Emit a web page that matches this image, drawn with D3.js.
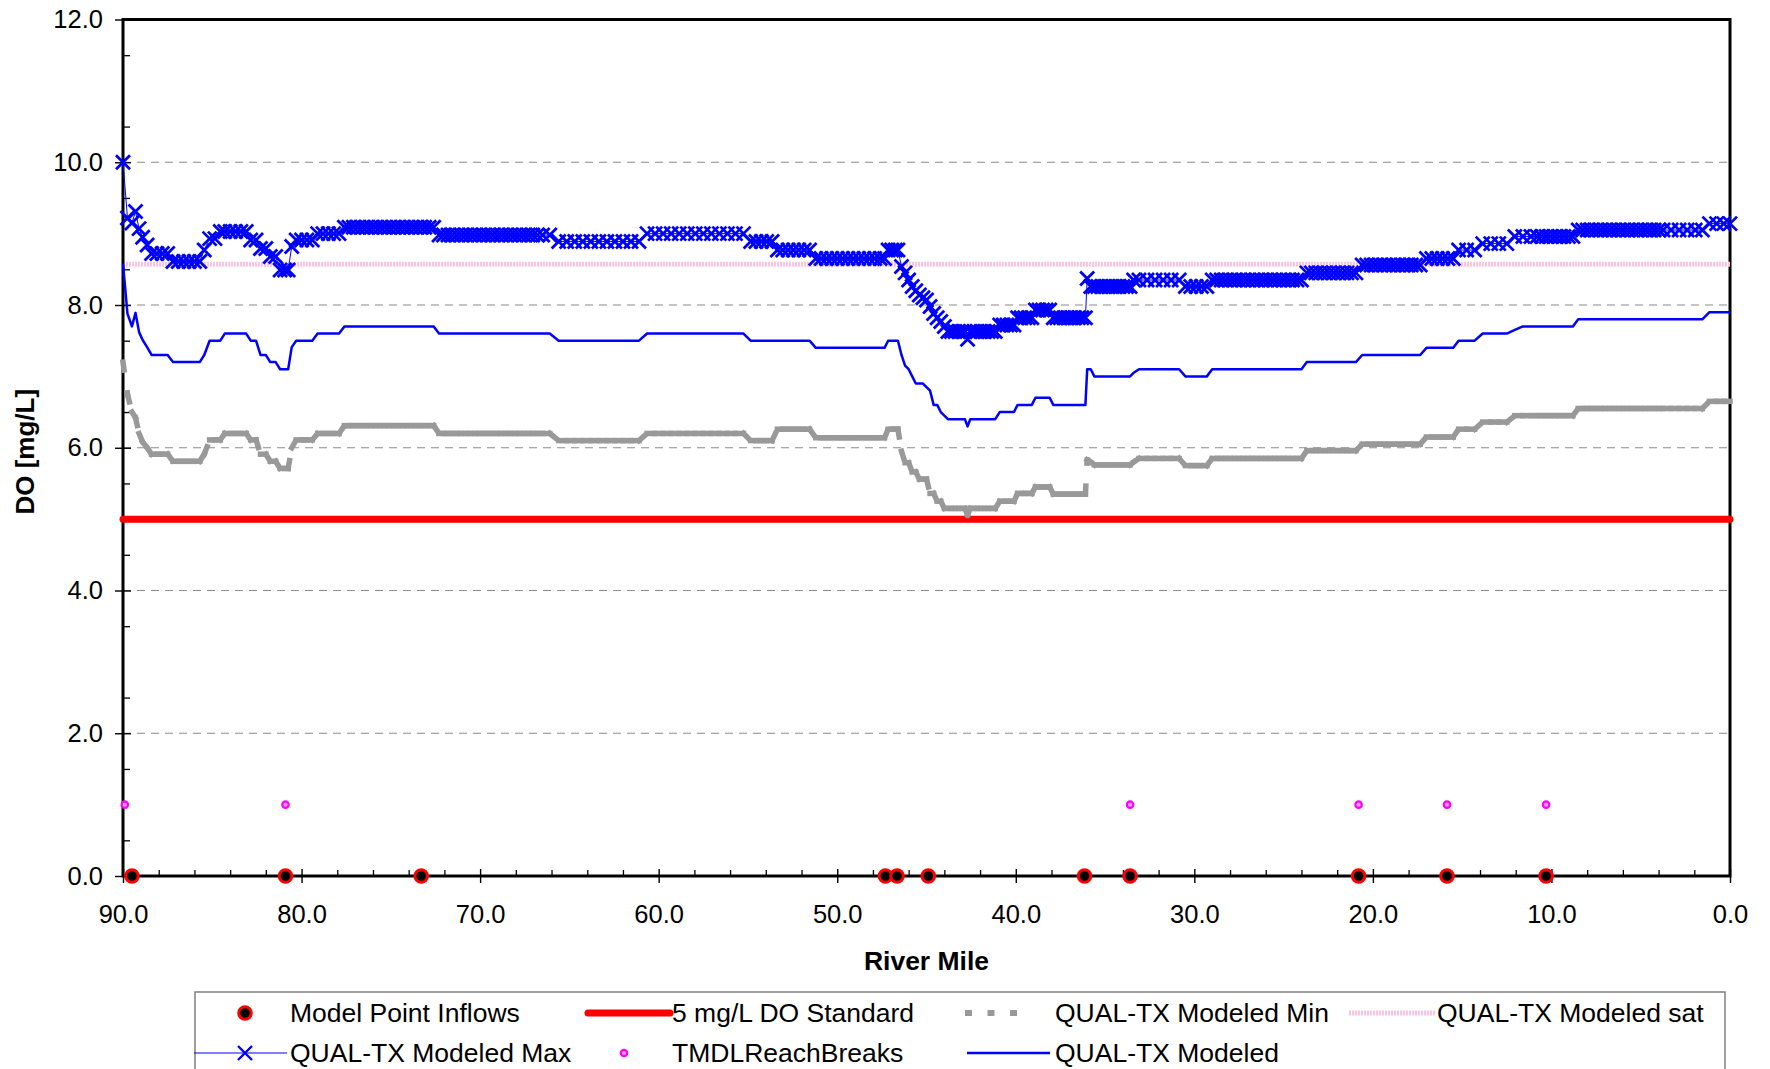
<!DOCTYPE html>
<html>
<head>
<meta charset="utf-8">
<script src="https://cdn.jsdelivr.net/npm/d3@7"></script>
<style>
  body { margin: 0; background: #fff; }
  svg text { font-family: "Liberation Sans", Arial, sans-serif; fill: #000; }
</style>
</head>
<body>
<svg id="chart" width="1770" height="1069"></svg>
<script>
// QUAL-TX model output (river mile, DO mg/L)
const riverMile = [
  90.0, 89.75, 89.5, 89.3, 89.1, 88.9, 88.65, 88.4, 88.1, 87.8, 87.5, 87.2, 86.9, 86.6, 86.3, 86.0, 85.7,
  85.45, 85.15, 84.85, 84.55, 84.3, 84.0, 83.7, 83.4, 83.1, 82.85, 82.55, 82.3, 82.0, 81.75, 81.45, 81.2, 80.95, 80.75,
  80.55, 80.3, 80.0, 79.7, 79.4, 79.1, 78.8, 78.5, 78.2, 77.9,
  77.6, 77.35, 77.1, 76.85, 76.6, 76.35, 76.1, 75.85, 75.6, 75.35, 75.1, 74.85, 74.6, 74.35, 74.1, 73.85, 73.6, 73.35, 73.1, 72.85, 72.6,
  72.3, 72.05, 71.8, 71.55, 71.3, 71.05, 70.8, 70.55, 70.3, 70.05, 69.8, 69.55, 69.3, 69.05, 68.8, 68.55, 68.3, 68.05, 67.8, 67.55, 67.3, 67.05, 66.8, 66.5, 66.1,
  65.6, 65.15, 64.7, 64.25, 63.8, 63.35, 62.9, 62.45, 62.0, 61.55, 61.1,
  60.65, 60.2, 59.75, 59.3, 58.85, 58.4, 57.95, 57.5, 57.05, 56.6, 56.15, 55.7, 55.25,
  54.85, 54.55, 54.25, 53.95, 53.65,
  53.35, 53.05, 52.75, 52.45, 52.15, 51.85, 51.55,
  51.2, 50.9, 50.6, 50.3, 50.0, 49.7, 49.4, 49.1, 48.8, 48.5, 48.2, 47.9, 47.6, 47.35,
  47.15, 46.95, 46.75, 46.6,
  46.4, 46.2, 46.0, 45.8, 45.6, 45.4, 45.2, 45.0, 44.8, 44.6, 44.4, 44.2, 44.0,
  43.8, 43.6, 43.4, 43.2, 43.0, 42.85,
  42.7,
  42.55, 42.35, 42.15, 41.95, 41.75, 41.55, 41.35, 41.15,
  40.9, 40.7, 40.5, 40.3, 40.1,
  39.9, 39.7, 39.5, 39.3, 39.1,
  38.9, 38.7, 38.5, 38.3, 38.1,
  37.9, 37.7, 37.5, 37.3, 37.1, 36.9, 36.7, 36.5, 36.3, 36.1,
  36.0, 35.8,
  35.6, 35.4, 35.2, 35.0, 34.8, 34.6, 34.4, 34.2, 34.0, 33.8, 33.6,
  33.4,
  33.1, 32.65, 32.2, 31.75, 31.3, 30.85,
  30.5, 30.2, 29.9, 29.6, 29.3,
  29.0, 28.75, 28.5, 28.25, 28.0, 27.75, 27.5, 27.25, 27.0, 26.75, 26.5, 26.25, 26.0, 25.75, 25.5, 25.25, 25.0, 24.75, 24.5, 24.25, 24.0,
  23.7, 23.45, 23.2, 22.95, 22.7, 22.45, 22.2, 21.95, 21.7, 21.45, 21.2, 20.95,
  20.6, 20.35, 20.1, 19.85, 19.6, 19.35, 19.1, 18.85, 18.6, 18.35, 18.1, 17.85, 17.6, 17.35,
  17.0, 16.7, 16.4, 16.1, 15.8, 15.5,
  15.2, 14.75, 14.3,
  13.85, 13.4, 12.95, 12.5,
  12.05, 11.6, 11.15,
  10.8, 10.55, 10.3, 10.05, 9.8, 9.55, 9.3, 9.05, 8.8,
  8.5, 8.25, 8.0, 7.75, 7.5, 7.25, 7.0, 6.75, 6.5, 6.25, 6.0, 5.75, 5.5, 5.25, 5.0, 4.75, 4.5, 4.25, 4.0, 3.75,
  3.3, 2.85, 2.4, 1.95, 1.55,
  1.15, 0.75, 0.35, 0.0
];

const doModeled = [
  8.58, 7.88, 7.70, 7.89, 7.62, 7.51, 7.41, 7.30, 7.30, 7.30, 7.30, 7.20, 7.20, 7.20, 7.20, 7.20, 7.20,
  7.30, 7.50, 7.50, 7.50, 7.60, 7.60, 7.60, 7.60, 7.60, 7.50, 7.50, 7.30, 7.30, 7.20, 7.20, 7.10, 7.10, 7.10,
  7.41, 7.50, 7.50, 7.50, 7.50, 7.60, 7.60, 7.60, 7.60, 7.60,
  7.70, 7.70, 7.70, 7.70, 7.70, 7.70, 7.70, 7.70, 7.70, 7.70, 7.70, 7.70, 7.70, 7.70, 7.70, 7.70, 7.70, 7.70, 7.70, 7.70, 7.70,
  7.60, 7.60, 7.60, 7.60, 7.60, 7.60, 7.60, 7.60, 7.60, 7.60, 7.60, 7.60, 7.60, 7.60, 7.60, 7.60, 7.60, 7.60, 7.60, 7.60, 7.60, 7.60, 7.60, 7.60, 7.60,
  7.50, 7.50, 7.50, 7.50, 7.50, 7.50, 7.50, 7.50, 7.50, 7.50, 7.50,
  7.60, 7.60, 7.60, 7.60, 7.60, 7.60, 7.60, 7.60, 7.60, 7.60, 7.60, 7.60, 7.60,
  7.50, 7.50, 7.50, 7.50, 7.50,
  7.50, 7.50, 7.50, 7.50, 7.50, 7.50, 7.50,
  7.40, 7.40, 7.40, 7.40, 7.40, 7.40, 7.40, 7.40, 7.40, 7.40, 7.40, 7.40, 7.40, 7.40,
  7.50, 7.50, 7.50, 7.50,
  7.30, 7.15, 7.10, 7.00, 6.90, 6.90, 6.90, 6.85, 6.80, 6.60, 6.60, 6.50, 6.45,
  6.40, 6.40, 6.40, 6.40, 6.40, 6.40,
  6.30,
  6.40, 6.40, 6.40, 6.40, 6.40, 6.40, 6.40, 6.40,
  6.50, 6.50, 6.50, 6.50, 6.50,
  6.60, 6.60, 6.60, 6.60, 6.60,
  6.70, 6.70, 6.70, 6.70, 6.70,
  6.60, 6.60, 6.60, 6.60, 6.60, 6.60, 6.60, 6.60, 6.60, 6.60,
  7.10, 7.10,
  7.00, 7.00, 7.00, 7.00, 7.00, 7.00, 7.00, 7.00, 7.00, 7.00, 7.00,
  7.05,
  7.10, 7.10, 7.10, 7.10, 7.10, 7.10,
  7.00, 7.00, 7.00, 7.00, 7.00,
  7.10, 7.10, 7.10, 7.10, 7.10, 7.10, 7.10, 7.10, 7.10, 7.10, 7.10, 7.10, 7.10, 7.10, 7.10, 7.10, 7.10, 7.10, 7.10, 7.10, 7.10,
  7.20, 7.20, 7.20, 7.20, 7.20, 7.20, 7.20, 7.20, 7.20, 7.20, 7.20, 7.20,
  7.30, 7.30, 7.30, 7.30, 7.30, 7.30, 7.30, 7.30, 7.30, 7.30, 7.30, 7.30, 7.30, 7.30,
  7.40, 7.40, 7.40, 7.40, 7.40, 7.40,
  7.50, 7.50, 7.50,
  7.60, 7.60, 7.60, 7.60,
  7.65, 7.70, 7.70,
  7.70, 7.70, 7.70, 7.70, 7.70, 7.70, 7.70, 7.70, 7.70,
  7.80, 7.80, 7.80, 7.80, 7.80, 7.80, 7.80, 7.80, 7.80, 7.80, 7.80, 7.80, 7.80, 7.80, 7.80, 7.80, 7.80, 7.80, 7.80, 7.80,
  7.80, 7.80, 7.80, 7.80, 7.80,
  7.90, 7.90, 7.90, 7.90
];

const doModeledMax = [
  10.00, 9.22, 9.15, 9.31, 9.07, 8.95, 8.84, 8.72, 8.72, 8.72, 8.72, 8.61, 8.61, 8.61, 8.61, 8.61, 8.61,
  8.77, 8.93, 8.93, 9.03, 9.03, 9.03, 9.03, 9.03, 9.03, 8.91, 8.91, 8.79, 8.79, 8.68, 8.68, 8.49, 8.49, 8.49,
  8.82, 8.91, 8.91, 8.91, 8.91, 9.00, 9.00, 9.00, 9.00, 9.00,
  9.09, 9.09, 9.09, 9.09, 9.09, 9.09, 9.09, 9.09, 9.09, 9.09, 9.09, 9.09, 9.09, 9.09, 9.09, 9.09, 9.09, 9.09, 9.09, 9.09, 9.09,
  8.98, 8.98, 8.98, 8.98, 8.98, 8.98, 8.98, 8.98, 8.98, 8.98, 8.98, 8.98, 8.98, 8.98, 8.98, 8.98, 8.98, 8.98, 8.98, 8.98, 8.98, 8.98, 8.98, 8.98, 8.98,
  8.89, 8.89, 8.89, 8.89, 8.89, 8.89, 8.89, 8.89, 8.89, 8.89, 8.89,
  9.00, 9.00, 9.00, 9.00, 9.00, 9.00, 9.00, 9.00, 9.00, 9.00, 9.00, 9.00, 9.00,
  8.89, 8.89, 8.89, 8.89, 8.89,
  8.77, 8.77, 8.77, 8.77, 8.77, 8.77, 8.77,
  8.65, 8.65, 8.65, 8.65, 8.65, 8.65, 8.65, 8.65, 8.65, 8.65, 8.65, 8.65, 8.65, 8.65,
  8.77, 8.77, 8.77, 8.77,
  8.54, 8.45, 8.35, 8.26, 8.20, 8.14, 8.10, 8.07, 7.98, 7.88, 7.82, 7.77, 7.70,
  7.63, 7.63, 7.63, 7.63, 7.63, 7.63,
  7.52,
  7.63, 7.63, 7.63, 7.63, 7.63, 7.63, 7.63, 7.63,
  7.72, 7.72, 7.72, 7.72, 7.72,
  7.82, 7.82, 7.82, 7.82, 7.82,
  7.93, 7.93, 7.93, 7.93, 7.93,
  7.82, 7.82, 7.82, 7.82, 7.82, 7.82, 7.82, 7.82, 7.82, 7.82,
  8.37, 8.26,
  8.26, 8.26, 8.26, 8.26, 8.26, 8.26, 8.26, 8.26, 8.26, 8.26, 8.26,
  8.35,
  8.35, 8.35, 8.35, 8.35, 8.35, 8.35,
  8.26, 8.26, 8.26, 8.26, 8.26,
  8.35, 8.35, 8.35, 8.35, 8.35, 8.35, 8.35, 8.35, 8.35, 8.35, 8.35, 8.35, 8.35, 8.35, 8.35, 8.35, 8.35, 8.35, 8.35, 8.35, 8.35,
  8.45, 8.45, 8.45, 8.45, 8.45, 8.45, 8.45, 8.45, 8.45, 8.45, 8.45, 8.45,
  8.56, 8.56, 8.56, 8.56, 8.56, 8.56, 8.56, 8.56, 8.56, 8.56, 8.56, 8.56, 8.56, 8.56,
  8.65, 8.65, 8.65, 8.65, 8.65, 8.65,
  8.77, 8.77, 8.77,
  8.86, 8.86, 8.86, 8.86,
  8.96, 8.96, 8.96,
  8.96, 8.96, 8.96, 8.96, 8.96, 8.96, 8.96, 8.96, 8.96,
  9.05, 9.05, 9.05, 9.05, 9.05, 9.05, 9.05, 9.05, 9.05, 9.05, 9.05, 9.05, 9.05, 9.05, 9.05, 9.05, 9.05, 9.05, 9.05, 9.05,
  9.05, 9.05, 9.05, 9.05, 9.05,
  9.14, 9.14, 9.14, 9.14
];

const doModeledMin = [
  7.20, 6.75, 6.50, 6.42, 6.20, 6.08, 6.00, 5.91, 5.91, 5.91, 5.91, 5.81, 5.81, 5.81, 5.81, 5.81, 5.81,
  5.91, 6.11, 6.11, 6.11, 6.20, 6.20, 6.20, 6.20, 6.20, 6.11, 6.11, 5.91, 5.91, 5.81, 5.81, 5.71, 5.71, 5.71,
  6.00, 6.11, 6.11, 6.11, 6.11, 6.20, 6.20, 6.20, 6.20, 6.20,
  6.31, 6.31, 6.31, 6.31, 6.31, 6.31, 6.31, 6.31, 6.31, 6.31, 6.31, 6.31, 6.31, 6.31, 6.31, 6.31, 6.31, 6.31, 6.31, 6.31, 6.31,
  6.20, 6.20, 6.20, 6.20, 6.20, 6.20, 6.20, 6.20, 6.20, 6.20, 6.20, 6.20, 6.20, 6.20, 6.20, 6.20, 6.20, 6.20, 6.20, 6.20, 6.20, 6.20, 6.20, 6.20, 6.20,
  6.10, 6.10, 6.10, 6.10, 6.10, 6.10, 6.10, 6.10, 6.10, 6.10, 6.10,
  6.20, 6.20, 6.20, 6.20, 6.20, 6.20, 6.20, 6.20, 6.20, 6.20, 6.20, 6.20, 6.20,
  6.10, 6.10, 6.10, 6.10, 6.10,
  6.26, 6.26, 6.26, 6.26, 6.26, 6.26, 6.26,
  6.14, 6.14, 6.14, 6.14, 6.14, 6.14, 6.14, 6.14, 6.14, 6.14, 6.14, 6.14, 6.14, 6.14,
  6.26, 6.26, 6.26, 6.26,
  5.95, 5.79, 5.79, 5.66, 5.66, 5.56, 5.56, 5.56, 5.36, 5.36, 5.25, 5.25, 5.15,
  5.15, 5.15, 5.15, 5.15, 5.15, 5.15,
  5.06,
  5.15, 5.15, 5.15, 5.15, 5.15, 5.15, 5.15, 5.15,
  5.25, 5.25, 5.25, 5.25, 5.25,
  5.36, 5.36, 5.36, 5.36, 5.36,
  5.45, 5.45, 5.45, 5.45, 5.45,
  5.35, 5.35, 5.35, 5.35, 5.35, 5.35, 5.35, 5.35, 5.35, 5.35,
  5.83, 5.80,
  5.76, 5.76, 5.76, 5.76, 5.76, 5.76, 5.76, 5.76, 5.76, 5.76, 5.76,
  5.80,
  5.85, 5.85, 5.85, 5.85, 5.85, 5.85,
  5.75, 5.75, 5.75, 5.75, 5.75,
  5.85, 5.85, 5.85, 5.85, 5.85, 5.85, 5.85, 5.85, 5.85, 5.85, 5.85, 5.85, 5.85, 5.85, 5.85, 5.85, 5.85, 5.85, 5.85, 5.85, 5.85,
  5.96, 5.96, 5.96, 5.96, 5.96, 5.96, 5.96, 5.96, 5.96, 5.96, 5.96, 5.96,
  6.05, 6.05, 6.05, 6.05, 6.05, 6.05, 6.05, 6.05, 6.05, 6.05, 6.05, 6.05, 6.05, 6.05,
  6.15, 6.15, 6.15, 6.15, 6.15, 6.15,
  6.26, 6.26, 6.26,
  6.36, 6.36, 6.36, 6.36,
  6.45, 6.45, 6.45,
  6.45, 6.45, 6.45, 6.45, 6.45, 6.45, 6.45, 6.45, 6.45,
  6.55, 6.55, 6.55, 6.55, 6.55, 6.55, 6.55, 6.55, 6.55, 6.55, 6.55, 6.55, 6.55, 6.55, 6.55, 6.55, 6.55, 6.55, 6.55, 6.55,
  6.55, 6.55, 6.55, 6.55, 6.55,
  6.65, 6.65, 6.65, 6.65
];

const doSat = 8.57;
const doStandard = 5.0;
const inflowMiles = [89.5, 80.9, 73.3, 47.3, 46.65, 44.9, 36.15, 33.6, 20.8, 15.85, 10.3];
const inflowLevel = 0.0;
const reachBreakMiles = [89.9, 80.9, 33.6, 20.8, 15.85, 10.3];
const reachBreakLevel = 1.0;

const yTicks = [0, 2, 4, 6, 8, 10, 12];
const xTicks = [90, 80, 70, 60, 50, 40, 30, 20, 10, 0];

if (doModeled.length !== riverMile.length || doModeledMax.length !== riverMile.length ||
    doModeledMin.length !== riverMile.length) {
  throw new Error("length mismatch " + [riverMile.length, doModeled.length,
    doModeledMax.length, doModeledMin.length].join(","));
}

const svg = d3.select("#chart");
const plotLeft = 123, plotRight = 1730, plotTop = 19.5, plotBottom = 876;

const x = d3.scaleLinear().domain([90, 0]).range([plotLeft, plotRight]);
const y = d3.scaleLinear().domain([0, 12]).range([plotBottom, plotTop]);
const fmt = d3.format(".1f");
const blue = "#0000ff";

const rows = riverMile.map((m, i) => ({
  mile: m, mod: doModeled[i], max: doModeledMax[i], min: doModeledMin[i]
}));

// gridlines
svg.append("g")
  .selectAll("line")
  .data(yTicks.filter(d => d > 0 && d < 12))
  .enter()
  .append("line")
  .attr("x1", plotLeft).attr("x2", plotRight)
  .attr("y1", d => y(d)).attr("y2", d => y(d))
  .attr("stroke", "#8c8c8c")
  .attr("stroke-width", 1.2)
  .attr("stroke-dasharray", "8,6");

// minor ticks (inside)
svg.append("g")
  .attr("transform", `translate(${plotLeft},0)`)
  .call(d3.axisLeft(y).tickValues(d3.range(0.5, 12, 1)).tickSize(-7).tickFormat(""))
  .call(g => g.select(".domain").remove())
  .call(g => g.selectAll("line").attr("stroke-width", 1.3));

svg.append("g")
  .attr("transform", `translate(0,${plotBottom})`)
  .call(d3.axisBottom(x).tickValues(d3.range(2, 90, 2).filter(d => d % 10 !== 0)).tickSize(-6).tickFormat(""))
  .call(g => g.select(".domain").remove())
  .call(g => g.selectAll("line").attr("stroke-width", 1.3));

// major axes
svg.append("g")
  .attr("transform", `translate(${plotLeft},0)`)
  .call(d3.axisLeft(y).tickValues(yTicks).tickFormat(fmt).tickSize(8).tickPadding(12))
  .call(g => g.select(".domain").remove())
  .call(g => g.selectAll(".tick line").attr("x1", 8).attr("stroke-width", 1.4))
  .call(g => g.selectAll(".tick text").style("font-size", "25.5px"));

svg.append("g")
  .attr("transform", `translate(0,${plotBottom})`)
  .call(d3.axisBottom(x).tickValues(xTicks).tickFormat(fmt).tickSize(7).tickPadding(22))
  .call(g => g.select(".domain").remove())
  .call(g => g.selectAll(".tick line").attr("y1", -7).attr("stroke-width", 1.4))
  .call(g => g.selectAll(".tick text").style("font-size", "25.5px"));

// plot frame
svg.append("rect")
  .attr("x", plotLeft).attr("y", plotTop)
  .attr("width", plotRight - plotLeft).attr("height", plotBottom - plotTop)
  .attr("fill", "none")
  .attr("stroke", "#000")
  .attr("stroke-width", 3);

// axis titles
svg.append("text")
  .attr("transform", `translate(25,${(plotTop + plotBottom) / 2 + 4}) rotate(-90)`)
  .attr("text-anchor", "middle")
  .attr("dy", "0.35em")
  .style("font-size", "26px")
  .style("font-weight", "bold")
  .text("DO [mg/L]");

svg.append("text")
  .attr("x", (plotLeft + plotRight) / 2)
  .attr("y", 961)
  .attr("text-anchor", "middle")
  .attr("dy", "0.35em")
  .style("font-size", "26.5px")
  .style("font-weight", "bold")
  .text("River Mile");

const plot = svg.append("g");

// Model Point Inflows
plot.selectAll("circle.inflow")
  .data(inflowMiles)
  .enter()
  .append("circle")
  .attr("class", "inflow")
  .attr("cx", d => x(d))
  .attr("cy", y(inflowLevel))
  .attr("r", 6.3)
  .attr("fill", "#000")
  .attr("stroke", "#ff0000")
  .attr("stroke-width", 3);

// 5 mg/L standard
const milesExtent = d3.extent(riverMile);
plot.append("line")
  .attr("x1", x(milesExtent[1])).attr("x2", x(milesExtent[0]))
  .attr("y1", y(doStandard)).attr("y2", y(doStandard))
  .attr("stroke", "#ff0000")
  .attr("stroke-width", 7)
  .attr("stroke-linecap", "round");

// Modeled Min: dashed, pattern restarts on each segment (Excel style)
plot.selectAll("line.min")
  .data(d3.pairs(rows))
  .enter()
  .append("line")
  .attr("class", "min")
  .attr("x1", d => x(d[0].mile)).attr("y1", d => y(d[0].min))
  .attr("x2", d => x(d[1].mile)).attr("y2", d => y(d[1].min))
  .attr("stroke", "#999999")
  .attr("stroke-width", 5.5)
  .attr("stroke-linecap", "square")
  .attr("stroke-dasharray", "8,23");

// Modeled sat
plot.append("line")
  .attr("x1", x(milesExtent[1]) + 3).attr("x2", x(milesExtent[0]))
  .attr("y1", y(doSat)).attr("y2", y(doSat))
  .attr("stroke", "#ffc2e1")
  .attr("stroke-width", 5)
  .attr("stroke-dasharray", "2,1");

// Modeled Max
plot.append("path")
  .datum(rows)
  .attr("fill", "none")
  .attr("stroke", blue)
  .attr("stroke-width", 1)
  .attr("d", d3.line().x(d => x(d.mile)).y(d => y(d.max)));

const xMark = "M-7,-7L7,7M-7,7L7,-7";
plot.selectAll("path.xmark")
  .data(rows)
  .enter()
  .append("path")
  .attr("class", "xmark")
  .attr("transform", d => `translate(${x(d.mile)},${y(d.max)})`)
  .attr("d", xMark)
  .attr("stroke", blue)
  .attr("stroke-width", 2.8)
  .attr("fill", "none");

// TMDL reach breaks
plot.selectAll("circle.brk")
  .data(reachBreakMiles)
  .enter()
  .append("circle")
  .attr("class", "brk")
  .attr("cx", d => x(d))
  .attr("cy", y(reachBreakLevel))
  .attr("r", 3.2)
  .attr("fill", "#ff9ce6")
  .attr("stroke", "#ff00ff")
  .attr("stroke-width", 2.2);

// Modeled
plot.append("path")
  .datum(rows)
  .attr("fill", "none")
  .attr("stroke", blue)
  .attr("stroke-width", 2.5)
  .attr("stroke-linejoin", "round")
  .attr("d", d3.line().x(d => x(d.mile)).y(d => y(d.mod)));

// Legend
const legend = svg.append("g");
legend.append("rect")
  .attr("x", 195).attr("y", 992)
  .attr("width", 1530).attr("height", 120)
  .attr("fill", "#fff")
  .attr("stroke", "#808080")
  .attr("stroke-width", 1.5);

const legendItems = [
  { label: "Model Point Inflows", kind: "inflow", col: 0, row: 0 },
  { label: "5 mg/L DO Standard", kind: "standard", col: 1, row: 0 },
  { label: "QUAL-TX Modeled Min", kind: "min", col: 2, row: 0 },
  { label: "QUAL-TX Modeled sat", kind: "sat", col: 3, row: 0 },
  { label: "QUAL-TX Modeled Max", kind: "max", col: 0, row: 1 },
  { label: "TMDLReachBreaks", kind: "brk", col: 1, row: 1 },
  { label: "QUAL-TX Modeled", kind: "mod", col: 2, row: 1 }
];
const colX = [204, 586, 965, 1349];
const textX = [290, 672, 1055, 1437];
const rowY = [1013, 1053];
const sw = 82;

legendItems.forEach(it => {
  const g = legend.append("g").attr("transform", `translate(${colX[it.col]},${rowY[it.row]})`);
  if (it.kind === "inflow") {
    g.append("circle").attr("cx", sw / 2).attr("r", 6.3)
      .attr("fill", "#000").attr("stroke", "#ff0000").attr("stroke-width", 3);
  } else if (it.kind === "standard") {
    g.append("line").attr("x1", 2).attr("x2", sw + 2)
      .attr("stroke", "#ff0000").attr("stroke-width", 7).attr("stroke-linecap", "round");
  } else if (it.kind === "min") {
    g.append("line").attr("x1", 0).attr("x2", 56)
      .attr("stroke", "#999999").attr("stroke-width", 6).attr("stroke-dasharray", "7,15.5");
  } else if (it.kind === "sat") {
    g.append("line").attr("x1", 0).attr("x2", sw + 4)
      .attr("stroke", "#ffc2e1").attr("stroke-width", 5).attr("stroke-dasharray", "2,1");
  } else if (it.kind === "max") {
    g.append("line").attr("x1", -10).attr("x2", sw + 1)
      .attr("stroke", blue).attr("stroke-width", 1);
    g.append("path").attr("transform", `translate(${sw / 2},0)`).attr("d", xMark)
      .attr("stroke", blue).attr("stroke-width", 2.4).attr("fill", "none");
  } else if (it.kind === "brk") {
    g.append("circle").attr("cx", sw / 2 - 3).attr("r", 3.2)
      .attr("fill", "#ff9ce6").attr("stroke", "#ff00ff").attr("stroke-width", 2.2);
  } else if (it.kind === "mod") {
    g.append("line").attr("x1", 2).attr("x2", sw + 3)
      .attr("stroke", blue).attr("stroke-width", 2.5);
  }
  legend.append("text")
    .attr("x", textX[it.col])
    .attr("y", rowY[it.row])
    .attr("dy", "0.35em")
    .style("font-size", "26.5px")
    .text(it.label);
});
</script>
</body>
</html>
